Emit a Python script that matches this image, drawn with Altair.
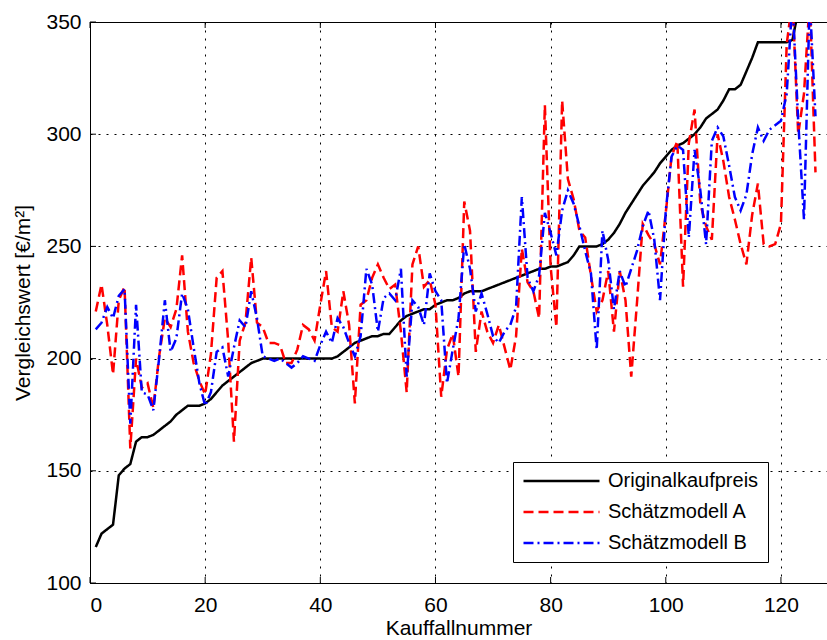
import altair as alt
import pandas as pd

# ---- data ----
series_names = ["Originalkaufpreis", "Schätzmodell A", "Schätzmodell B"]

original = [116, 122, 124, 126, 148, 151, 153, 163, 165, 165,
            166, 168, 170, 172, 175, 177, 179, 179, 179, 180,
            182, 185, 188, 190, 192, 194, 196, 198, 199, 200,
            200, 200, 200, 200, 200, 200, 200, 200, 200, 200,
            200, 200, 201, 203, 205, 207, 208, 209, 210, 210,
            211, 211, 214, 217, 219, 220, 221, 222, 222, 224,
            225, 226, 226, 227, 229, 230, 230, 230, 231, 232,
            233, 234, 235, 236, 237, 238, 239, 240, 240, 241,
            241, 242, 243, 246, 250, 250, 250, 250, 251, 253,
            256, 260, 265, 269, 273, 277, 280, 283, 287, 290,
            293, 295, 296, 298, 300, 303, 307, 309, 311, 315,
            320, 320, 322, 328, 334, 341, 341, 341, 341, 341,
            341, 342, 355, 370, 385, 400]

model_a = [221, 233, 215, 193, 226, 232, 160, 200, 187, 189,
           178, 201, 218, 214, 222, 246, 212, 198, 190, 184,
           202, 236, 239, 208, 163, 208, 216, 245, 216, 214,
           207, 207, 206, 198, 198, 204, 215, 213, 208, 224,
           239, 214, 212, 230, 215, 180, 224, 226, 236, 242,
           236, 231, 233, 212, 185, 242, 250, 232, 235, 224,
           183, 204, 211, 192, 270, 257, 203, 221, 212, 207,
           215, 205, 195, 210, 249, 234, 230, 218, 313, 241,
           214, 315, 280, 271, 257, 254, 237, 221, 226, 239,
           212, 239, 226, 192, 225, 260, 255, 251, 242, 265,
           290, 297, 232, 296, 311, 269, 259, 253, 300, 288,
           272, 262, 251, 242, 264, 278, 251, 250, 251, 260,
           340, 360, 300, 318, 360, 283]

model_b = [213, 216, 223, 218, 228, 231, 171, 224, 185, 184,
           177, 200, 226, 203, 209, 229, 222, 205, 189, 179,
           185, 203, 205, 192, 205, 217, 214, 230, 218, 201,
           200, 199, 200, 198, 196, 198, 201, 200, 199, 206,
           212, 207, 218, 214, 207, 201, 210, 240, 233, 212,
           227, 229, 226, 240, 192, 226, 223, 215, 238, 230,
           226, 189, 204, 218, 251, 240, 221, 229, 220, 210,
           207, 212, 215, 223, 272, 236, 230, 237, 265, 256,
           246, 266, 275, 269, 259, 248, 238, 204, 257, 244,
           222, 239, 232, 240, 248, 259, 266, 253, 226, 266,
           290, 295, 293, 254, 293, 275, 251, 297, 303, 299,
           286, 272, 266, 273, 291, 303, 297, 302, 304, 306,
           318, 360, 306, 262, 360, 308]

case_numbers = list(range(1, len(original) + 1))
x_ticks = [0, 20, 40, 60, 80, 100, 120]
y_ticks = [100, 150, 200, 250, 300, 350]

colors = ["#000000", "#ff0000", "#0000ff"]
dashes = [[1, 0], [10, 5], [10, 4, 2, 4]]

rows = []
for name, vals in zip(series_names, [original, model_a, model_b]):
    for i, v in zip(case_numbers, vals):
        rows.append({"nr": i, "wert": v, "serie": name})
df = pd.DataFrame(rows)

FONT = "Liberation Sans"

x_scale = alt.Scale(domain=[0, 128], nice=False, zero=False)
y_scale = alt.Scale(domain=[100, 350], nice=False, zero=False)

x_enc = alt.X("nr:Q", scale=x_scale,
              axis=alt.Axis(values=x_ticks, title="Kauffallnummer", tickSize=0,
                            labelPadding=11, titlePadding=2, format="d"))
y_enc = alt.Y("wert:Q", scale=y_scale,
              axis=alt.Axis(values=y_ticks, title="Vergleichswert [€/m²]", tickSize=0,
                            labelPadding=9, titlePadding=12, format="d"))

legend = alt.Legend(title=None, orient="none", legendX=423, legendY=440,
                    fillColor="white", strokeColor="black", padding=9,
                    symbolType="stroke", symbolSize=5776, symbolStrokeWidth=2.5,
                    clipHeight=20, labelFontSize=20, labelFont=FONT, rowPadding=11,
                    labelOffset=7, symbolOffset=0, labelColor="black")

color_enc = alt.Color("serie:N", scale=alt.Scale(domain=series_names, range=colors),
                      legend=legend)
dash_enc = alt.StrokeDash("serie:N", scale=alt.Scale(domain=series_names, range=dashes),
                          legend=legend)

base = alt.Chart(df)
layers = []
for name in series_names:
    layers.append(
        base.transform_filter(alt.datum.serie == name)
        .mark_line(strokeWidth=2.5, clip=True)
        .encode(x=x_enc, y=y_enc, color=color_enc, strokeDash=dash_enc)
    )

# inward tick marks (Matlab style)
xt = pd.DataFrame({"nr": x_ticks})
yt = pd.DataFrame({"wert": y_ticks})
tick_bottom = alt.Chart(xt).mark_rule(color="black", strokeWidth=1).encode(
    x=alt.X("nr:Q", scale=x_scale), y=alt.value(561), y2=alt.value(555))
tick_top = alt.Chart(xt).mark_rule(color="black", strokeWidth=1).encode(
    x=alt.X("nr:Q", scale=x_scale), y=alt.value(0), y2=alt.value(6))
tick_left = alt.Chart(yt).mark_rule(color="black", strokeWidth=1).encode(
    y=alt.Y("wert:Q", scale=y_scale), x=alt.value(0), x2=alt.value(6))

chart = alt.layer(*layers, tick_bottom, tick_top, tick_left).properties(
    width=737, height=561,
    autosize=alt.AutoSizeParams(type="none"),
    padding={"left": 90, "top": 22, "right": 0, "bottom": 57},
    background="white",
).configure_view(
    stroke="black", strokeWidth=1
).configure_axis(
    domainColor="black", domainWidth=1,
    grid=True, gridColor="black", gridDash=[2, 6], gridWidth=1, gridOpacity=1,
    labelFont=FONT, labelFontSize=21, labelColor="black",
    titleFont=FONT, titleFontSize=21, titleFontWeight="normal", titleColor="black",
)

chart.save("out.html", embed_options={"renderer": "svg", "actions": False})
